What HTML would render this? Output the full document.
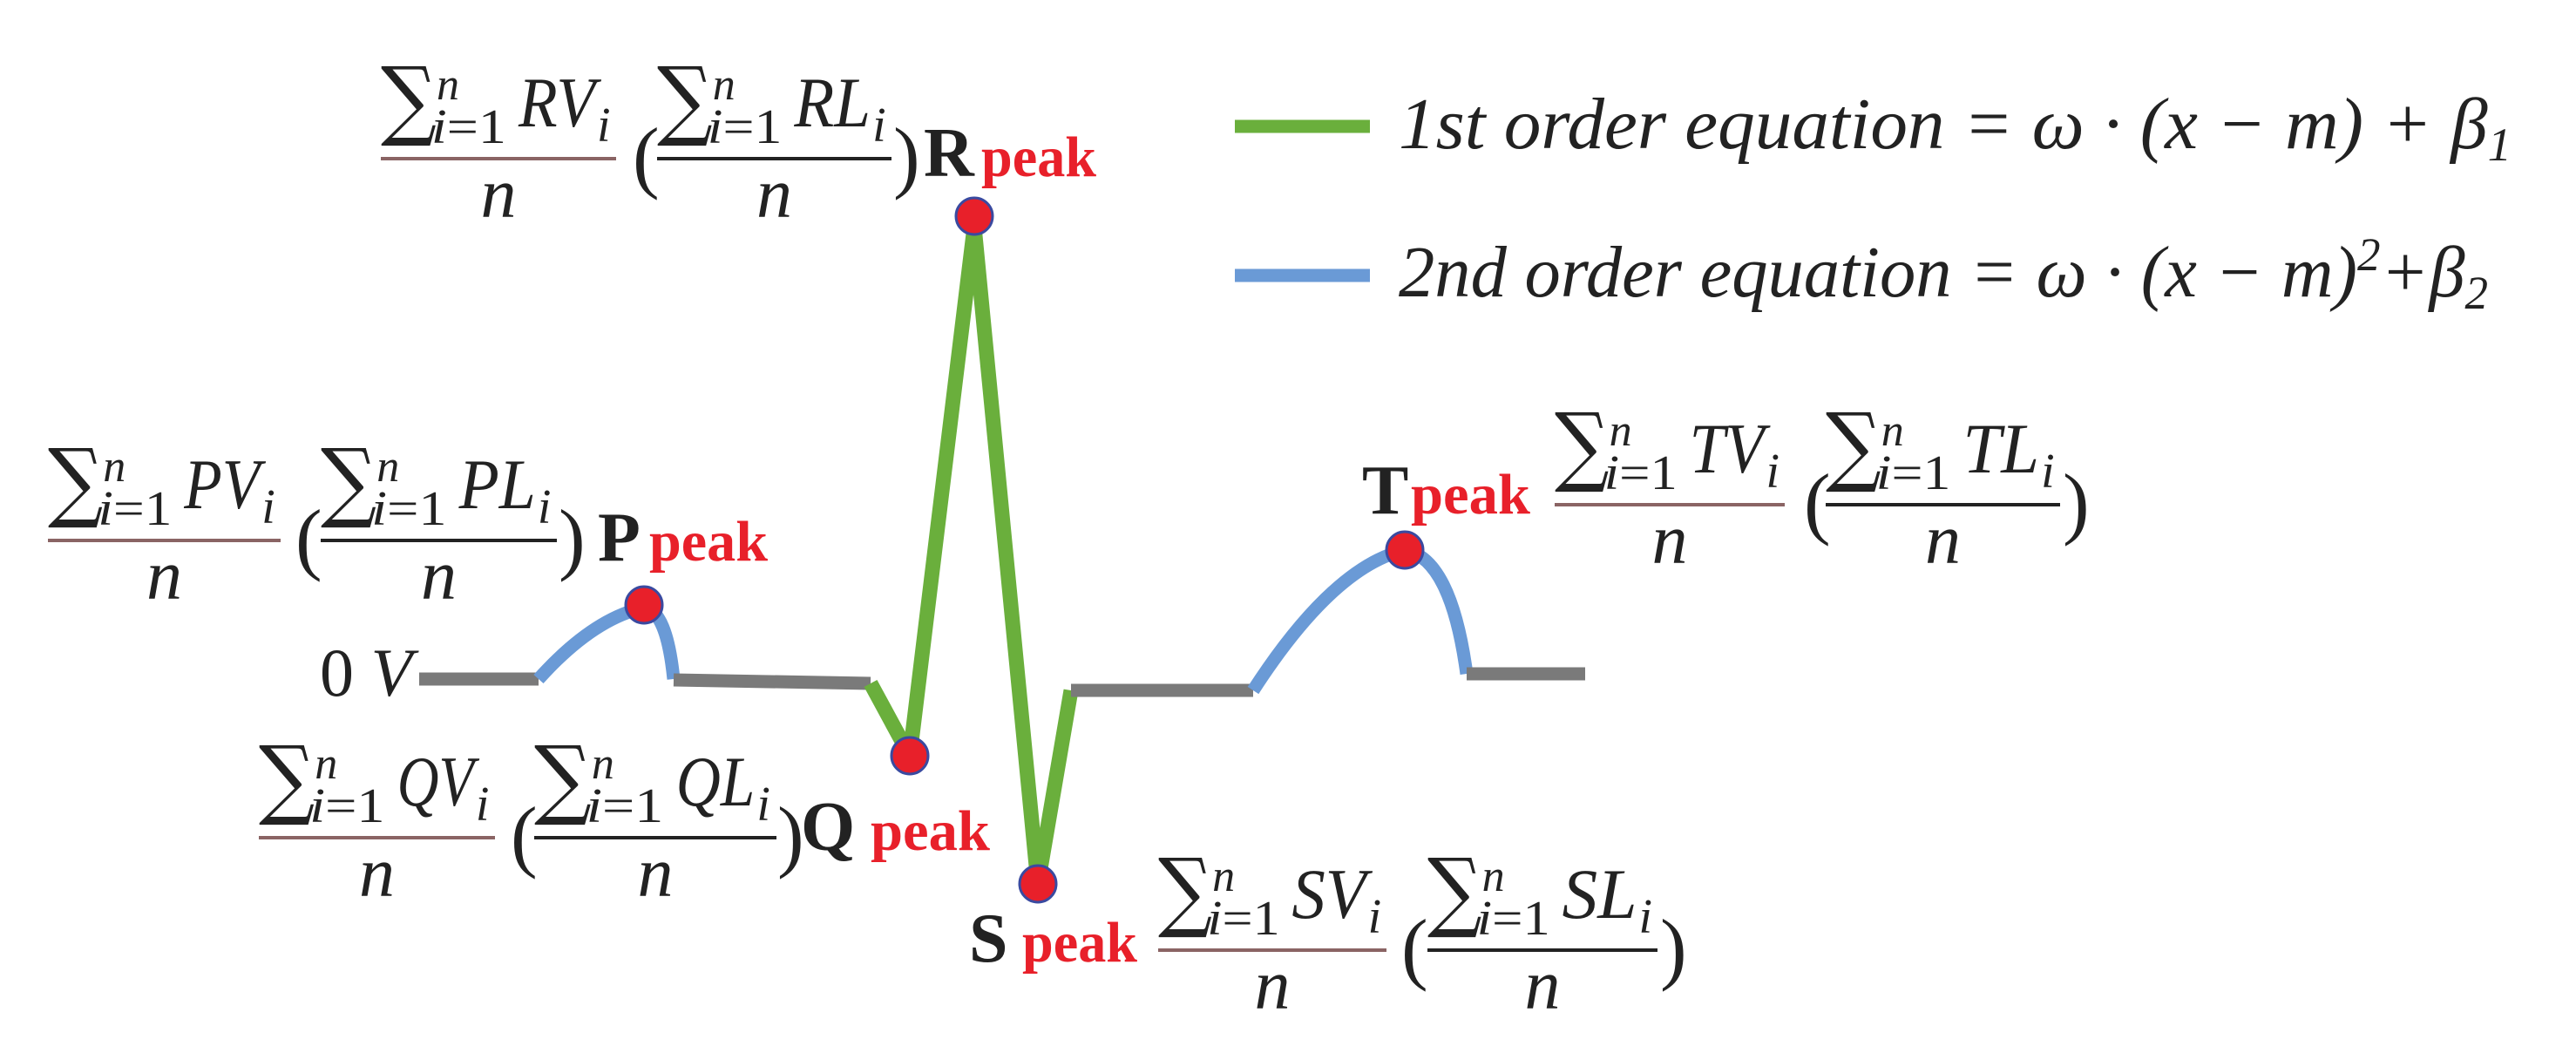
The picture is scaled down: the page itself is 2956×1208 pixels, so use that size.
<!DOCTYPE html>
<html><head><meta charset="utf-8"><style>html,body{margin:0;padding:0;background:#fff;}svg{display:block}</style></head>
<body>
<svg id="s" width="2956" height="1208" viewBox="0 0 2956 1208" xmlns="http://www.w3.org/2000/svg">
<g fill="none" stroke-linejoin="round" stroke-linecap="butt">
<polyline points="481,779 618,779" stroke="#7a7a7a" stroke-width="15"/>
<path d="M618,779 Q680,710 739,697 Q765,700 773,779" stroke="#6a9ad6" stroke-width="15"/>
<polyline points="773,780 999,784" stroke="#7a7a7a" stroke-width="15"/>
<polyline points="999,784 1044,867 1118,260 1191,1014 1229,792" stroke="#6aaf3c" stroke-width="17"/>
<polyline points="1229,792 1438,792" stroke="#7a7a7a" stroke-width="15"/>
<path d="M1438,792 Q1530,650 1612,631 Q1665,640 1683,773" stroke="#6a9ad6" stroke-width="15"/>
<polyline points="1683,773 1819,773" stroke="#7a7a7a" stroke-width="15"/>
<line x1="1417" y1="145" x2="1572" y2="145" stroke="#6aaf3c" stroke-width="15"/>
<line x1="1417" y1="316" x2="1572" y2="316" stroke="#6a9ad6" stroke-width="15"/>
</g>
<g fill="#e8202a" stroke="#3a4aa0" stroke-width="3">
<circle cx="1118" cy="248" r="21"/><circle cx="1044" cy="867" r="21"/><circle cx="1191" cy="1014" r="21"/>
<circle cx="739" cy="694" r="21"/><circle cx="1612" cy="631" r="21"/>
</g>
<g font-family="Liberation Serif, serif" font-style="italic" fill="#222" font-size="84">
<text x="1605" y="170" textLength="1277" lengthAdjust="spacingAndGlyphs">1st order equation = ω · (x − m) + β<tspan font-size="54" dy="14">1</tspan></text>
<text x="1605" y="340" textLength="1250" lengthAdjust="spacingAndGlyphs">2nd order equation = ω · (x − m)<tspan font-size="54" dy="-30">2</tspan><tspan dy="30">+β</tspan><tspan font-size="54" dy="14">2</tspan></text>
<text x="367" y="798" font-size="78" font-style="normal">0 <tspan font-style="italic">V</tspan></text>
</g>
<g id="eq"></g>
</svg>
<script>
var g=document.getElementById('eq'),h='';
function frac(x,w,bar,L,col){
 var s=w/270;
 h+='<text x="'+x+'" y="'+(bar-34)+'" font-size="100" font-family="DejaVu Serif,serif" fill="#222" textLength="'+(64*s)+'" lengthAdjust="spacingAndGlyphs">∑</text>';
 h+='<text x="'+(x+64*s)+'" y="'+(bar-68)+'" font-size="52" font-style="italic" fill="#222">n</text>';
 h+='<text x="'+(x+58*s)+'" y="'+(bar-18)+'" font-size="56" fill="#222" textLength="'+(86*s)+'" lengthAdjust="spacingAndGlyphs"><tspan font-style="italic">i</tspan>=1</text>';
 h+='<text x="'+(x+158*s)+'" y="'+(bar-37)+'" font-size="82" font-style="italic" fill="#222" textLength="'+(88*s)+'" lengthAdjust="spacingAndGlyphs">'+L+'</text>';
 h+='<text x="'+(x+248*s)+'" y="'+(bar-20)+'" font-size="56" font-style="italic" fill="#222">i</text>';
 h+='<rect x="'+x+'" y="'+(bar-2)+'" width="'+w+'" height="4" fill="'+col+'"/>';
 h+='<text x="'+(x+w/2)+'" y="'+(bar+67)+'" font-size="82" font-style="italic" text-anchor="middle" fill="#222">n</text>';
}
function grp(a){
 frac(a.f1,a.w1,a.bar,a.L+'V','#8a6464');
 frac(a.f2,a.w2,a.bar,a.L+'L','#222');
 h+='<text x="'+a.p1+'" y="'+(a.bar+28)+'" font-size="92" fill="#222">(</text>';
 h+='<text x="'+a.p2+'" y="'+(a.bar+28)+'" font-size="92" fill="#222">)</text>';
 h+='<text x="'+a.lx+'" y="'+a.ly+'" font-size="80" font-weight="bold" fill="#222">'+a.L+'</text>';
 h+='<text x="'+a.px+'" y="'+a.ly+'" font-size="66" font-weight="bold" fill="#e8202a" textLength="'+a.pw+'" lengthAdjust="spacingAndGlyphs">peak</text>';
}
grp({L:'R',f1:437,w1:270,f2:754,w2:269,bar:182,p1:726,p2:1025,lx:1060,ly:202,px:1126,pw:132});
grp({L:'P',f1:55,w1:267,f2:368,w2:271,bar:620,p1:339,p2:641,lx:686,ly:643,px:745,pw:136});
grp({L:'Q',f1:297,w1:271,f2:613,w2:278,bar:961,p1:586,p2:892,lx:919,ly:975,px:999,pw:137});
grp({L:'S',f1:1329,w1:262,f2:1638,w2:264,bar:1090,p1:1608,p2:1905,lx:1112,ly:1103,px:1173,pw:132});
grp({L:'T',f1:1784,w1:264,f2:2095,w2:269,bar:579,p1:2070,p2:2367,lx:1563,ly:589,px:1619,pw:137});
g.innerHTML=h;
g.setAttribute('font-family','Liberation Serif, serif');
</script>
</body></html>
